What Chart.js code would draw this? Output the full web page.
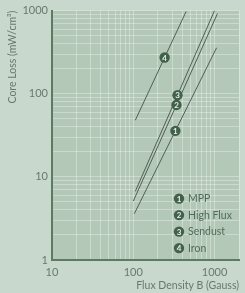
<!DOCTYPE html>
<html><head><meta charset="utf-8">
<script src="https://cdn.jsdelivr.net/npm/chart.js@4"></script>
<style>html,body{margin:0;padding:0;background:#c8d8cc;}#wrap{width:245px;height:293px;}</style>
</head><body><div id="wrap"><canvas id="c" width="245" height="293"></canvas></div>
<script>
const seriesNames = ["MPP", "High Flux", "Sendust", "Iron"];
const mppLine = [{x:103, y:3.6}, {x:1060, y:357}];
const highFluxLine = [{x:100, y:5.1}, {x:1087, y:922}];
const sendustLine = [{x:106, y:6.7}, {x:1000, y:1000}];
const ironLine = [{x:106, y:48}, {x:447, y:976}];
const labelAtB = [330, 340, 350, 243];
const xTickLabels = [10, 100, 1000];
const yTickLabels = [1, 10, 100, 1000];
const xTitle = "Flux Density B (Gauss)";
const yTitle = "Core Loss (mW/cm³)";

const lines = [mppLine, highFluxLine, sendustLine, ironLine];
const FONT = "Lato, 'Open Sans', sans-serif";
const TXT = "#667a6c";
const DARK = "#41614a";

function logTicks(min, max){
  const t=[];
  for(let d=Math.floor(Math.log10(min)); d<=Math.ceil(Math.log10(max)); d++){
    for(let m=1;m<10;m++){const v=m*Math.pow(10,d); if(v>=min-1e-9&&v<=max+1e-9) t.push({value:v});}
  }
  return t;
}

const bgPlugin = {
  id:'bg',
  beforeDraw(chart){
    const {ctx, chartArea:a} = chart;
    ctx.save();
    ctx.fillStyle="#c8d8cc"; ctx.fillRect(0,0,chart.width,chart.height);
    ctx.fillStyle="#b4c8b8"; ctx.fillRect(a.left,a.top,a.right-a.left,a.bottom-a.top);
    ctx.restore();
  }
};
function bullet(ctx,x,y,n){
  ctx.beginPath(); ctx.arc(x,y,5.2,0,Math.PI*2); ctx.fillStyle=DARK; ctx.fill();
  ctx.fillStyle="#e8efe9"; ctx.font="bold 8px "+FONT; ctx.textAlign="center"; ctx.textBaseline="middle";
  ctx.fillText(String(n),x,y+0.5);
}
const labelPlugin = {
  id:'labels',
  afterDatasetsDraw(chart){
    const {ctx, scales:{x,y}, chartArea:a} = chart;
    ctx.save();
    lines.forEach((ln,i)=>{
      const b=labelAtB[i];
      const p0=ln[0], p1=ln[1];
      const t=(Math.log10(b)-Math.log10(p0.x))/(Math.log10(p1.x)-Math.log10(p0.x));
      const lp=Math.log10(p0.y)+t*(Math.log10(p1.y)-Math.log10(p0.y));
      bullet(ctx, x.getPixelForValue(b), y.getPixelForValue(Math.pow(10,lp)), i+1);
    });
    // legend
    const lx=a.left+127, ly0=a.top+188, dy=16.5;
    seriesNames.forEach((nm,i)=>{
      bullet(ctx,lx,ly0+i*dy,i+1);
      ctx.fillStyle="#526b58"; ctx.font="10.5px "+FONT; ctx.textAlign="left"; ctx.textBaseline="middle";
      ctx.fillText(nm,lx+9,ly0+i*dy+0.5);
    });
    ctx.restore();
  }
};

new Chart(document.getElementById('c'), {
  type:'scatter',
  data:{datasets: lines.map((ln,i)=>({label:seriesNames[i], data:ln, showLine:true, borderColor:"#4f5f53", borderWidth:1, pointRadius:0, fill:false}))},
  options:{
    responsive:false, animation:false, devicePixelRatioOverride:1,
    layout:{padding:{top:5,right:2,left:0,bottom:0}},
    plugins:{legend:{display:false}, tooltip:{enabled:false}},
    scales:{
      x:{type:'logarithmic', min:10, max:2000,
        afterBuildTicks(s){s.ticks=logTicks(10,2000);},
        afterFit(s){s.height=33;},
        grid:{color:"rgba(255,255,255,0.32)", lineWidth:1, drawTicks:false},
        border:{color:"#5b7c62", width:2},
        ticks:{autoSkip:false, maxRotation:0, padding:6, color:TXT, font:{family:FONT,size:11},
          callback(v){return xTickLabels.includes(v)?String(v):'';}},
        title:{display:true, text:xTitle, align:'end', color:TXT, font:{family:FONT,size:10.5}, padding:{top:0,bottom:1}}
      },
      y:{type:'logarithmic', min:1, max:1000,
        afterBuildTicks(s){s.ticks=logTicks(1,1000);},
        afterFit(s){s.width=52;},
        grid:{color:"rgba(255,255,255,0.32)", lineWidth:1, drawTicks:false},
        border:{color:"#5b7c62", width:2},
        ticks:{autoSkip:false, padding:4, color:TXT, font:{family:FONT,size:11},
          callback(v){return yTickLabels.includes(v)?String(v):'';}},
        title:{display:true, text:yTitle, align:'end', color:TXT, font:{family:FONT,size:10.5}, padding:{top:6,bottom:0}}
      }
    }
  },
  plugins:[bgPlugin,labelPlugin]
});
</script></body></html>
